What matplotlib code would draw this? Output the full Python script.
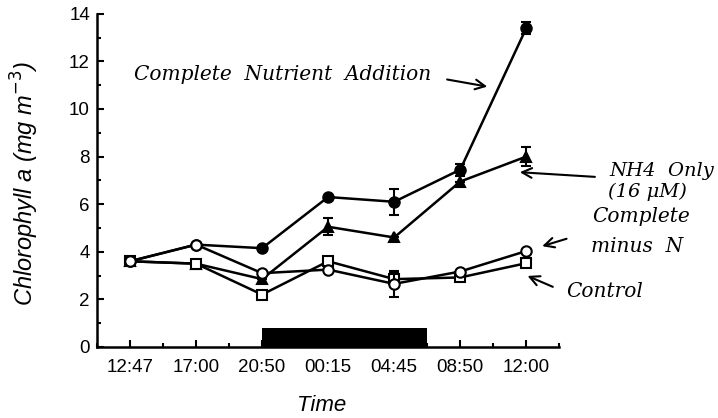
import matplotlib
matplotlib.use("Agg")
import matplotlib.pyplot as plt
from matplotlib.ticker import MultipleLocator

# sampling times and chlorophyll a per treatment (mg m-3)
times = ['12:47', '17:00', '20:50', '00:15', '04:45', '08:50', '12:00']
complete = [3.6, 4.3, 4.15, 6.3, 6.1, 7.45, 13.4]
complete_err = [0, 0, 0, 0, 0.55, 0.25, 0.25]
nh4 = [3.6, 3.5, 2.85, 5.05, 4.6, 6.95, 8.0]
nh4_err = [0, 0, 0, 0.35, 0, 0, 0.4]
minus_n = [3.6, 4.3, 3.1, 3.25, 2.65, 3.17, 4.03]
minus_n_err = [0, 0, 0, 0, 0.55, 0, 0]
control = [3.6, 3.5, 2.2, 3.6, 2.85, 2.92, 3.52]
control_err = [0, 0, 0, 0, 0.3, 0, 0]

# dark period (in sample index units) and bar height
night = [2.0, 4.5]
night_height = 0.8

plt.rcParams['font.family'] = ['Liberation Sans', 'DejaVu Sans']
fig = plt.figure(figsize=(7.18, 4.18), dpi=100)
ax = fig.add_axes([0.135, 0.17, 0.644, 0.797])

x = list(range(len(times)))
line_kw = dict(color='black', lw=1.8, ms=7.5, mew=1.5, capsize=3.5, elinewidth=1.5, capthick=1.5)
ax.errorbar(x, complete, yerr=complete_err, marker='o', mfc='black', zorder=3, **line_kw)
ax.errorbar(x, nh4, yerr=nh4_err, marker='^', mfc='black', zorder=3, **line_kw)
ax.errorbar(x, control, yerr=control_err, marker='s', mfc='white', zorder=4, **line_kw)
ax.errorbar(x, minus_n, yerr=minus_n_err, marker='o', mfc='white', zorder=5, **line_kw)

ax.fill_between(night, 0, night_height, color='black', lw=0, zorder=2)

ax.set_xlim(-0.5, 6.5)
ax.set_ylim(0, 14)
ax.set_xticks(x)
ax.set_xticklabels(times)
ax.xaxis.set_minor_locator(MultipleLocator(0.5))
ax.yaxis.set_major_locator(MultipleLocator(2))
ax.yaxis.set_minor_locator(MultipleLocator(1))
ax.tick_params(which='both', direction='in', width=1.5, labelsize=13.5, colors='black')
ax.tick_params(which='major', length=5)
ax.tick_params(which='minor', length=3)
ax.tick_params(axis='x', which='major', pad=9)
ax.tick_params(axis='y', which='major', pad=5)
for side in ['top', 'right']:
    ax.spines[side].set_visible(False)
for side in ['left', 'bottom']:
    ax.spines[side].set_linewidth(1.8)

ax.set_ylabel('Chlorophyll a (mg m$^{-3}$)', fontsize=17, style='italic')
ax.yaxis.set_label_coords(-0.122, 0.49)
ax.set_xlabel('Time', fontsize=16, style='italic')
ax.xaxis.set_label_coords(0.487, -0.145)

note = dict(fontsize=14.5, style='italic', family='DejaVu Serif', va='baseline', ha='left')
arrow = dict(arrowstyle='->,head_length=0.7,head_width=0.35', lw=1.5, color='black')
ax.text(0.06, 11.22, 'Complete  Nutrient  Addition', **note)
ax.annotate('', xy=(5.45, 10.92), xytext=(4.76, 11.26), arrowprops=arrow)
ax.text(7.26, 7.18, 'NH4  Only', fontsize=14, **{k: v for k, v in note.items() if k != 'fontsize'})
ax.text(7.23, 6.3, '(16 μM)', fontsize=14, **{k: v for k, v in note.items() if k != 'fontsize'})
ax.annotate('', xy=(5.86, 7.35), xytext=(7.08, 7.14), arrowprops=arrow, annotation_clip=False)
ax.text(7.0, 5.25, 'Complete', **note)
ax.text(6.98, 3.99, 'minus  N', **note)
ax.annotate('', xy=(6.2, 4.2), xytext=(6.65, 4.58), arrowprops=arrow, annotation_clip=False)
ax.text(6.6, 2.1, 'Control', **note)
ax.annotate('', xy=(5.98, 3.03), xytext=(6.44, 2.48), arrowprops=arrow, annotation_clip=False)

fig.savefig('out.png', dpi=100)
